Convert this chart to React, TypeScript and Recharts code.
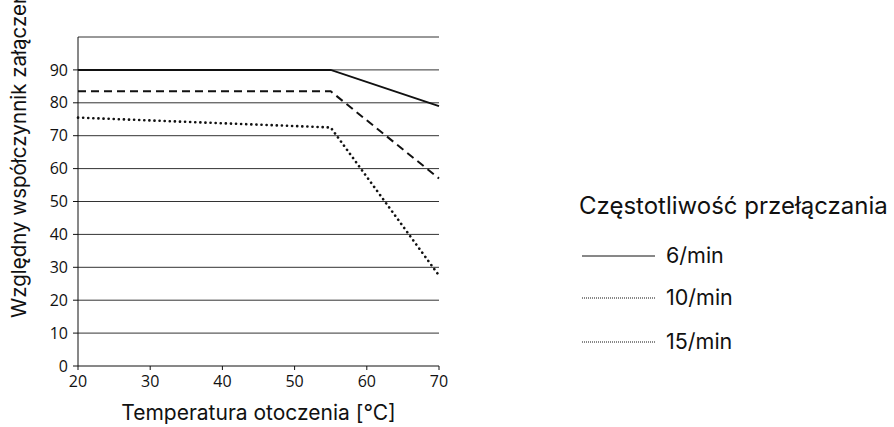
import React from "react";
import {
  LineChart,
  Line,
  XAxis,
  YAxis,
  CartesianGrid,
  Label,
} from "recharts";

// ambient temperature [°C]
const temps = [20, 55, 70];
// relative duty factor per switching frequency
const rate6 = [90, 90, 79];
const rate10 = [83.5, 83.5, 57];
const rate15 = [75.5, 72.5, 27.5];

const xTicks = [20, 30, 40, 50, 60, 70];
const yTicks = [0, 10, 20, 30, 40, 50, 60, 70, 80, 90];
const gridLines = [10, 20, 30, 40, 50, 60, 70, 80, 90, 100];

const legendTitle = "Częstotliwość przełączania";
const seriesNames = ["6/min", "10/min", "15/min"];

const data = temps.map((t, i) => ({
  t,
  r6: rate6[i],
  r10: rate10[i],
  r15: rate15[i],
}));

const font = "Inter, 'Noto Sans', sans-serif";
const tickStyle = { fontSize: 16, fill: "#111", fontFamily: "'Open Sans', sans-serif" };

function LegendBox() {
  const rows = [
    { name: seriesNames[0], dash: undefined, y: 256 },
    { name: seriesNames[1], dash: "1 1", y: 298 },
    { name: seriesNames[2], dash: "1 1", y: 342 },
  ];
  return (
    <div style={{ position: "absolute", left: 0, top: 0, width: 894, height: 427, fontFamily: font, pointerEvents: "none" }}>
      <div
        style={{
          position: "absolute",
          left: 579,
          top: 192,
          fontSize: 24,
          lineHeight: "28px",
          color: "#111",
          whiteSpace: "nowrap",
        }}
      >
        {legendTitle}
      </div>
      {rows.map((r) => (
        <React.Fragment key={r.name}>
          <svg
            width={74}
            height={4}
            style={{ position: "absolute", left: 582, top: r.y - 2 }}
          >
            <line
              x1={0}
              y1={2}
              x2={73}
              y2={2}
              stroke="#111"
              strokeWidth={1}
              strokeDasharray={r.dash}
            />
          </svg>
          <div
            style={{
              position: "absolute",
              left: 666,
              top: r.y - 14,
              fontSize: 21.5,
              lineHeight: "26px",
              color: "#111",
              whiteSpace: "nowrap",
            }}
          >
            {r.name}
          </div>
        </React.Fragment>
      ))}
    </div>
  );
}

export default function App() {
  return (
    <div style={{ position: "absolute", left: 0, top: 0, width: 894, height: 427, background: "#fff" }}>
      <LineChart
        width={894}
        height={427}
        data={data}
        margin={{ top: 37, right: 455, bottom: 0, left: 0 }}
      >
        <CartesianGrid
          vertical={false}
          horizontalValues={gridLines}
          stroke="#333"
          strokeWidth={1}
        />
        <XAxis
          dataKey="t"
          type="number"
          domain={[20, 70]}
          ticks={xTicks}
          height={61}
          tickSize={4}
          tick={tickStyle}
          stroke="#111"
          tickMargin={6}
        >
          <Label
            content={({ viewBox }: any) => (
              <text
                x={viewBox.x + viewBox.width / 2}
                y={420}
                textAnchor="middle"
                style={{ fontSize: 21, fill: "#111", fontFamily: font }}
              >
                Temperatura otoczenia [°C]
              </text>
            )}
          />
        </XAxis>
        <YAxis
          type="number"
          domain={[0, 100]}
          ticks={yTicks}
          width={78}
          tickSize={5}
          tick={tickStyle}
          stroke="#111"
          tickMargin={5}
          interval={0}
        >
          <Label
            content={() => (
              <text
                transform="rotate(-90)"
                x={-318}
                y={26}
                textAnchor="start"
                style={{ fontSize: 20.5, fill: "#111", fontFamily: font }}
              >
                Względny współczynnik załączenia
              </text>
            )}
          />
        </YAxis>
        <Line
          dataKey="r6"
          name={seriesNames[0]}
          stroke="#111"
          strokeWidth={2}
          dot={false}
          isAnimationActive={false}
        />
        <Line
          dataKey="r10"
          name={seriesNames[1]}
          stroke="#111"
          strokeWidth={2}
          strokeDasharray="8 5"
          dot={false}
          isAnimationActive={false}
        />
        <Line
          dataKey="r15"
          name={seriesNames[2]}
          stroke="#111"
          strokeWidth={2.6}
          strokeDasharray="0.1 5"
          strokeLinecap="round"
          dot={false}
          isAnimationActive={false}
        />
      </LineChart>
      <LegendBox />
    </div>
  );
}
